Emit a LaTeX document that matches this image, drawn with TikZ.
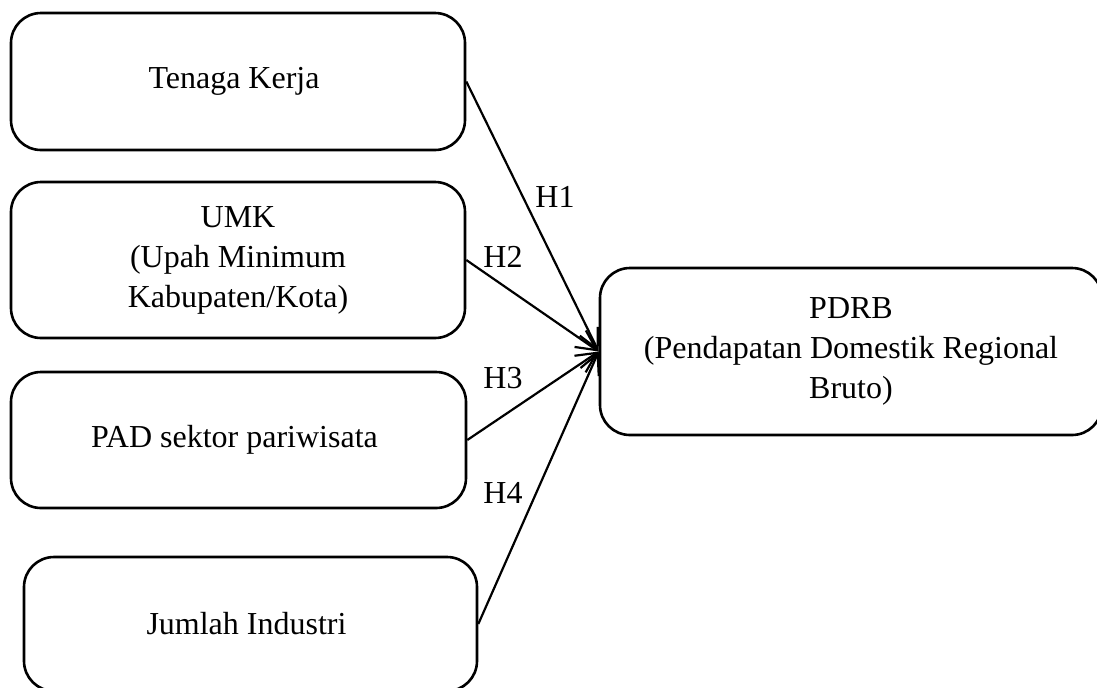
\documentclass[tikz,border=0pt]{standalone}
\usepackage{fontspec}
\setmainfont{Liberation Serif}
\usetikzlibrary{arrows.meta,positioning,shapes}
\usepackage{xcolor}

\begin{document}
\begin{tikzpicture}[x=0.5pt, y=-0.5pt, >={Straight Barb[length=10pt,width=10pt]}, every node/.style={
    rectangle,
    rounded corners=15pt,
    inner sep=3pt,
    draw,
    line width=1.3pt,
    align=center,
    font=\fontsize{16}{20}\selectfont
}]
    \useasboundingbox (0, 0) rectangle (1097, 687);

    \node (tenaga_kerja) [minimum width=227pt, minimum height=68.5pt, shift={(238, 81.5)}]
    {
        Tenaga Kerja
    };
    \node (umk) [minimum width=227pt, minimum height=78pt, shift={(238, 260)}]
    {
        UMK\\
        (Upah Minimum\\
        Kabupaten/Kota)
    };
    \node (pad_pariwisata) [minimum width=227.5pt, minimum height=68pt, shift={(238.5, 440)}]
    {
        PAD sektor pariwisata
    };
    \node (jumlah_industri) [minimum width=226.5pt, minimum height=67pt, shift={(250.5, 624)}]
    {
        Jumlah Industri
    };



    \node (pdrb) [minimum width=251pt, minimum height=83.5pt, shift={(851, 351.5)}]
    {
        PDRB\\
        (Pendapatan Domestik Regional\\
        Bruto)
    };



    \node (h1) [draw=none, shift={(555, 197)}] {H1};
    \node (h2) [draw=none, shift={(503, 257)}] {H2};
    \node (h3) [draw=none, shift={(503, 378)}] {H3};
    \node (h4) [draw=none, shift={(503, 493)}] {H4};



    \draw[->, line width=1.1pt] (tenaga_kerja.east) to (pdrb.west);
    \draw[->, line width=1.1pt] (umk.east) to (pdrb.west);
    \draw[->, line width=1.1pt] (pad_pariwisata.east) to (pdrb.west);
    \draw[->, line width=1.1pt] (jumlah_industri.east) to (pdrb.west);


\end{tikzpicture}
\end{document}
